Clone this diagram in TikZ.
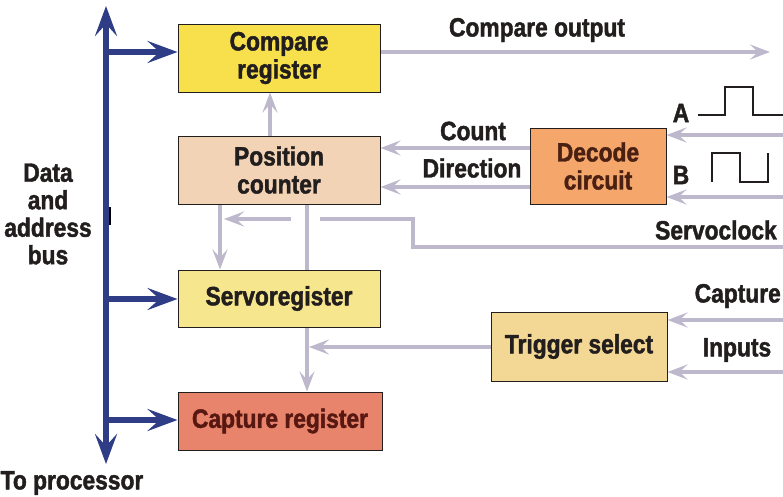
\documentclass[tikz,border=0pt]{standalone}
\usepackage{fontspec}
\setmainfont{Liberation Sans}[FakeStretch=0.86, BoldFeatures={FakeBold=1.6}]
\usetikzlibrary{arrows.meta,calc}
\definecolor{busblue}{HTML}{2F3C86}
\definecolor{greyln}{HTML}{BDB8CC}
\definecolor{cmpfill}{HTML}{F7E04C}
\definecolor{posfill}{HTML}{F3D3B6}
\definecolor{servofill}{HTML}{F6E78F}
\definecolor{capfill}{HTML}{E8846B}
\definecolor{decfill}{HTML}{F5A66B}
\definecolor{trigfill}{HTML}{F3D794}
\definecolor{txtdark}{HTML}{221E1E}
\definecolor{txtbrown}{HTML}{4A2012}
\definecolor{txtred}{HTML}{581812}
\pgfdeclarelayer{bg}
\pgfsetlayers{bg,main}
\tikzset{
  box/.style={draw=txtdark, line width=1pt, rectangle, inner sep=0pt, align=center,
    font=\fontsize{26.5}{28}\selectfont\bfseries, text=txtdark},
  lbl/.style={font=\fontsize{26.5}{27.5}\selectfont\bfseries, text=txtdark, inner sep=0pt, align=center},
  bus/.style={draw=busblue, line width=5.5pt, -{Stealth[length=30pt,width=22pt,inset=12pt]}},
  gline/.style={draw=greyln, line width=4pt},
  garrow/.style={gline, -{Stealth[length=20pt,width=15pt,inset=8pt]}},
  wave/.style={draw=txtdark, line width=1.3pt},
}
\begin{document}
\begin{tikzpicture}[x=1pt,y=-1pt]
\useasboundingbox (0,0) rectangle (783,496);

% boxes
\node[box, fill=cmpfill, minimum width=202pt, minimum height=68pt] (cmp) at (279,58) {Compare\\register};
\node[box, fill=posfill, minimum width=202pt, minimum height=68pt] (pos) at (279,170) {Position\\counter};
\node[box, fill=servofill, minimum width=202pt, minimum height=57pt] (servo) at (279,298.5) {Servoregister};
\node[box, fill=capfill, minimum width=204pt, minimum height=58pt, text=txtred] (cap) at (280,421) {Capture register};
\node[box, fill=decfill, minimum width=136pt, minimum height=76pt, text=txtbrown] (dec) at (598,166) {Decode\\circuit};
\node[box, fill=trigfill, minimum width=176pt, minimum height=69pt] (trig) at (579,346.5) {Trigger select};

% coordinates
\coordinate (bustop) at (106,6);
\coordinate (busbot) at (106,464);
\coordinate (busmid) at (106,200);
\coordinate (b1) at (106,52);
\coordinate (b2) at (106,299);
\coordinate (b3) at (106,420);
\coordinate (cmpout) at (770,52);
\coordinate (ain) at (783,135);
\coordinate (bin) at (783,197);
\coordinate (sc0) at (783,247);
\coordinate (sc1) at (413,247);
\coordinate (sc2) at (413,219);
\coordinate (sc3) at (320,219);
\coordinate (sa0) at (291,219);
\coordinate (sa1) at (224,219);
\coordinate (capin) at (783,320);
\coordinate (inpin) at (783,372);
\coordinate (tj) at (309,347);

\begin{pgfonlayer}{bg}
% bus
\draw[bus] (busmid) -- (bustop);
\draw[bus] (busmid) -- (busbot);
\draw[bus] (b1) -- (b1 -| cmp.west);
\draw[bus] (b2) -- (b2 -| servo.west);
\draw[bus] (b3) -- (b3 -| cap.west);
\draw[draw=black, line width=1.5pt] (110,207) -- (110,225);

% grey connectors
\draw[garrow] (pos.north -| 270,0) -- (cmp.south -| 270,0);
\draw[garrow] (b1 -| cmp.east) -- (cmpout);
\draw[garrow] (dec.west |- 0,148) -- (pos.east |- 0,148);
\draw[garrow] (dec.west |- 0,187) -- (pos.east |- 0,187);
\draw[garrow] (ain) -- (ain -| dec.east);
\draw[garrow] (bin) -- (bin -| dec.east);
\draw[gline] (sc0) -- (sc1) -- (sc2) -- (sc3);
\draw[garrow] (sa0) -- (sa1);
\draw[garrow] (pos.south -| 220,0) -- (servo.north -| 220,0);
\draw[garrow] (pos.south -| 307,0) -- (cap.north -| 307,0);
\draw[garrow] (trig.west |- tj) -- (tj);
\draw[garrow] (capin) -- (capin -| trig.east);
\draw[garrow] (inpin) -- (inpin -| trig.east);
\end{pgfonlayer}

% waveforms
\draw[wave] (698,115) -- (725,115) -- (725,87) -- (753,87) -- (753,115) -- (783,115);
\draw[wave] (712,182) -- (712,153) -- (740,153) -- (740,182) -- (768,182) -- (768,153);

% labels
\node[lbl] (lco) at (537,30) {Compare output};
\node[lbl] (lcount) at (473,131) {Count};
\node[lbl] (ldir) at (472,168) {Direction};
\node[lbl] (la) at (681,113) {A};
\node[lbl] (lb) at (681,175) {B};
\node[lbl, anchor=east] (lsc) at (777,230) {Servoclock};
\node[lbl, anchor=east] (lcap) at (781,296) {Capture};
\node[lbl] (linp) at (737,350) {Inputs};
\node[lbl] (ldata) at (48,214) {Data\\and\\address\\bus};
\node[lbl] (lproc) at (72,483) {To processor};
\end{tikzpicture}
\end{document}
